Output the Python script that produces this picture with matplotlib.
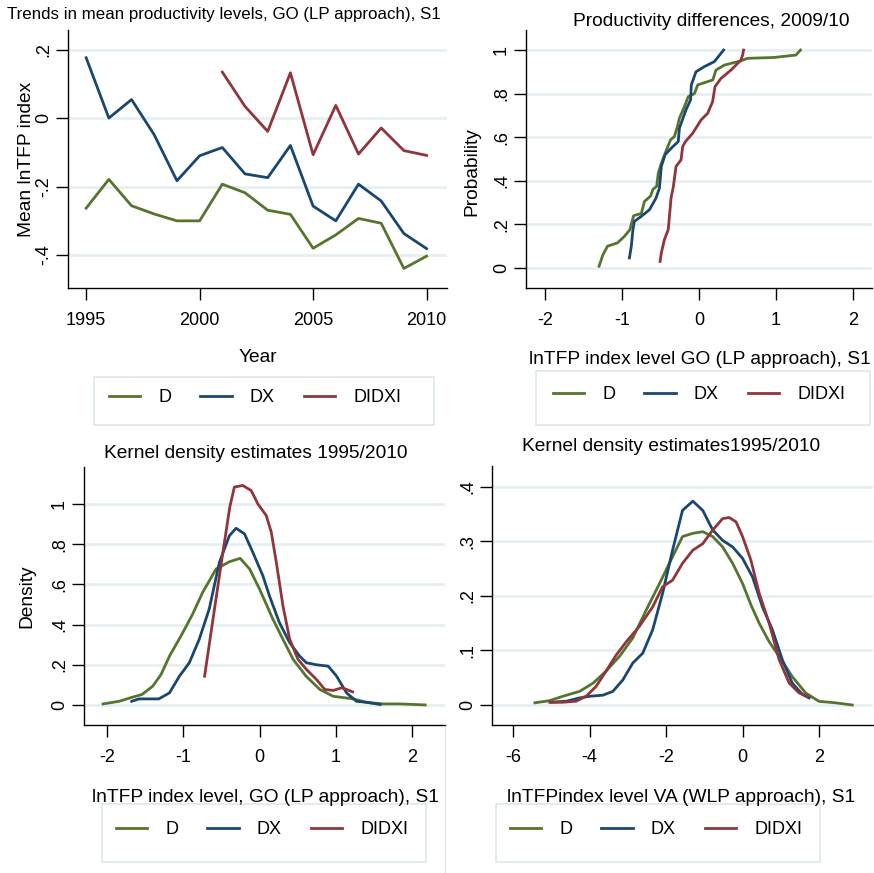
import matplotlib
matplotlib.use("Agg")
import matplotlib.pyplot as plt
from matplotlib.patches import Rectangle
from matplotlib.lines import Line2D
from matplotlib.ticker import FuncFormatter

W, H = 874, 873

GREEN = "#55752f"
NAVY = "#1a476f"
MAROON = "#90353b"
GRID = "#e6eff2"
BOX = "#dde8ea"

series_names = ["D", "DX", "DIDXI"]

# panel 1: mean lnTFP by year
years = list(range(1995, 2011))
trend_d = [-0.263, -0.179, -0.256, -0.280, -0.300, -0.300, -0.193, -0.218,
           -0.269, -0.281, -0.380, -0.341, -0.293, -0.307, -0.439, -0.403]
trend_dx = [0.176, 0.0, 0.054, -0.049, -0.183, -0.110, -0.086, -0.163,
            -0.174, -0.080, -0.257, -0.300, -0.193, -0.242, -0.337, -0.381]
years_didxi = list(range(2001, 2011))
trend_didxi = [0.134, 0.034, -0.039, 0.132, -0.107, 0.037, -0.105, -0.029, -0.095, -0.109]

# panel 2: cumulative distributions 2009/10
cdf_d_x = [-1.30, -1.25, -1.19, -1.06, -0.97, -0.90, -0.85, -0.75, -0.71, -0.63, -0.60,
           -0.55, -0.53, -0.49, -0.44, -0.37, -0.32, -0.28, -0.255, -0.19, -0.14, -0.06,
           -0.017, 0.18, 0.22, 0.33, 0.55, 0.63, 0.98, 1.26, 1.32]
cdf_d_p = [0.008, 0.06, 0.10, 0.115, 0.145, 0.175, 0.24, 0.25, 0.305, 0.33, 0.36,
           0.375, 0.435, 0.48, 0.527, 0.588, 0.603, 0.649, 0.687, 0.74, 0.786, 0.80,
           0.84, 0.863, 0.908, 0.931, 0.951, 0.962, 0.966, 0.977, 1.0]
cdf_dx_x = [-0.905, -0.88, -0.86, -0.84, -0.75, -0.645, -0.56, -0.515, -0.49, -0.44,
            -0.36, -0.27, -0.255, -0.17, -0.11, -0.10, -0.04, 0.07, 0.20, 0.32]
cdf_dx_p = [0.046, 0.10, 0.175, 0.214, 0.237, 0.267, 0.32, 0.366, 0.466, 0.52,
            0.55, 0.58, 0.641, 0.725, 0.771, 0.84, 0.90, 0.924, 0.947, 1.0]
cdf_didxi_x = [-0.506, -0.49, -0.45, -0.40, -0.377, -0.364, -0.333, -0.299, -0.234,
               -0.212, -0.177, -0.082, 0.026, 0.113, 0.177, 0.208, 0.286, 0.416,
               0.545, 0.567, 0.58]
cdf_didxi_p = [0.03, 0.069, 0.13, 0.176, 0.267, 0.32, 0.374, 0.466, 0.496,
               0.557, 0.58, 0.618, 0.679, 0.71, 0.763, 0.832, 0.87, 0.908,
               0.954, 0.977, 1.0]

# panel 3: kernel densities, GO (LP)
kd_go_d_x = [-2.05, -1.84, -1.67, -1.54, -1.40, -1.29, -1.18, -1.03, -0.877, -0.746,
             -0.57, -0.395, -0.254, -0.13, 0.0, 0.175, 0.307, 0.44, 0.61, 0.79,
             0.965, 1.23, 1.40, 1.62, 1.84, 2.17]
kd_go_d_y = [0.005, 0.018, 0.038, 0.052, 0.093, 0.152, 0.243, 0.343, 0.452, 0.56,
             0.677, 0.713, 0.73, 0.677, 0.577, 0.427, 0.327, 0.227, 0.143, 0.077,
             0.043, 0.03, 0.013, 0.005, 0.005, 0.0]
kd_go_dx_x = [-1.675, -1.58, -1.45, -1.32, -1.18, -1.05, -0.92, -0.79, -0.66, -0.526,
              -0.395, -0.307, -0.197, -0.088, 0.044, 0.13, 0.26, 0.395, 0.526, 0.614,
              0.745, 0.9, 1.01, 1.14, 1.27, 1.40, 1.58]
kd_go_dx_y = [0.018, 0.03, 0.03, 0.03, 0.06, 0.143, 0.21, 0.327, 0.477, 0.71,
              0.843, 0.88, 0.852, 0.76, 0.643, 0.543, 0.41, 0.31, 0.243, 0.21,
              0.20, 0.193, 0.143, 0.06, 0.018, 0.013, 0.002]
kd_go_didxi_x = [-0.72, -0.61, -0.48, -0.39, -0.33, -0.22, -0.11, -0.02, 0.088, 0.154,
                 0.22, 0.307, 0.395, 0.504, 0.614, 0.745, 0.855, 0.965, 1.075, 1.14, 1.22]
kd_go_didxi_y = [0.143, 0.427, 0.76, 0.985, 1.085, 1.093, 1.068, 1.0, 0.943, 0.86,
                 0.71, 0.493, 0.327, 0.227, 0.177, 0.127, 0.077, 0.072, 0.085, 0.077, 0.065]

# panel 4: kernel densities, VA (WLP)
kd_va_d_x = [-5.43, -5.04, -4.70, -4.26, -3.91, -3.57, -3.22, -2.87, -2.52, -2.17,
             -1.83, -1.57, -1.30, -1.04, -0.78, -0.52, -0.26, 0.0, 0.217, 0.435,
             0.696, 0.957, 1.30, 1.65, 2.0, 2.43, 2.87]
kd_va_d_y = [0.004, 0.008, 0.016, 0.025, 0.04, 0.062, 0.089, 0.123, 0.174, 0.223,
             0.272, 0.309, 0.315, 0.318, 0.309, 0.29, 0.26, 0.223, 0.184, 0.15,
             0.116, 0.089, 0.052, 0.022, 0.0067, 0.004, 0.0]
kd_va_dx_x = [-5.0, -4.6, -4.26, -4.0, -3.65, -3.39, -3.13, -2.87, -2.61, -2.35,
              -2.09, -1.83, -1.57, -1.30, -1.04, -0.78, -0.52, -0.26, 0.0, 0.26,
              0.52, 0.78, 1.04, 1.30, 1.57, 1.74]
kd_va_dx_y = [0.005, 0.007, 0.013, 0.016, 0.018, 0.025, 0.046, 0.077, 0.095, 0.138,
              0.205, 0.284, 0.357, 0.374, 0.357, 0.321, 0.302, 0.29, 0.269, 0.235,
              0.18, 0.138, 0.083, 0.040, 0.019, 0.013]
kd_va_didxi_x = [-5.04, -4.70, -4.35, -4.09, -3.83, -3.57, -3.30, -3.04, -2.70, -2.35,
                 -2.09, -1.83, -1.57, -1.30, -1.04, -0.78, -0.52, -0.35, -0.17, 0.0,
                 0.217, 0.435, 0.696, 0.957, 1.22, 1.48, 1.70]
kd_va_didxi_y = [0.005, 0.005, 0.007, 0.016, 0.034, 0.062, 0.092, 0.116, 0.144, 0.18,
                 0.217, 0.229, 0.26, 0.284, 0.296, 0.321, 0.342, 0.344, 0.336, 0.309,
                 0.266, 0.205, 0.15, 0.083, 0.040, 0.022, 0.016]

plt.rcParams.update({
    "font.family": ["Liberation Sans", "DejaVu Sans"],
    "font.size": 13,
    "axes.linewidth": 1.0,
    "xtick.major.size": 8.5,
    "ytick.major.size": 8.5,
    "xtick.major.width": 1.0,
    "ytick.major.width": 1.0,
    "xtick.major.pad": 9,
    "ytick.major.pad": 3,
    "lines.linewidth": 2.0,
})

TITLE_FS = 13.8
LABEL_FS = 13.8


def fx(px):
    return px / W


def fy(py):
    return 1 - py / H


def _stata_num(v, _pos=None):
    v = round(v, 6)
    s = f"{v:g}"
    if s.startswith("0."):
        s = s[1:]
    elif s.startswith("-0."):
        s = "-" + s[2:]
    return s


def _make_axes(fig, left, top, right, bottom):
    ax = fig.add_axes([fx(left), fy(bottom), fx(right - left), (bottom - top) / H])
    ax.spines["top"].set_visible(False)
    ax.spines["right"].set_visible(False)
    ax.yaxis.grid(True, color=GRID, linewidth=2.0)
    ax.set_axisbelow(True)
    ax.yaxis.set_major_formatter(FuncFormatter(_stata_num))
    ax.xaxis.set_major_formatter(FuncFormatter(_stata_num))
    ax.tick_params(axis="y", labelrotation=90)
    return ax


def _center_ylabels(ax):
    for lab in ax.get_yticklabels():
        lab.set_va("center")


def _legend_box(fig, handles, left, top, right, bottom, shift=0):
    fig.add_artist(Rectangle((fx(left), fy(bottom)), fx(right - left), (bottom - top) / H,
                             transform=fig.transFigure, facecolor="white",
                             edgecolor=BOX, linewidth=1.2))
    fig.legend(handles, series_names, loc="center", ncol=3, frameon=False,
               bbox_to_anchor=(fx((left + right) / 2 + shift), fy((top + bottom) / 2 - 3)),
               bbox_transform=fig.transFigure, handlelength=1.75,
               handletextpad=1.0, columnspacing=1.6)


fig = plt.figure(figsize=(W / 100, H / 100), dpi=100)
fig.patch.set_facecolor("white")

# ---- panel 1
ax1 = _make_axes(fig, 68, 30, 447, 288)
l_d, = ax1.plot(years, trend_d, color=GREEN)
l_dx, = ax1.plot(years, trend_dx, color=NAVY)
l_di, = ax1.plot(years_didxi, trend_didxi, color=MAROON)
ax1.set_xlim(1994.2, 2010.9)
ax1.set_ylim(-0.496, 0.257)
ax1.set_xticks([1995, 2000, 2005, 2010])
ax1.set_yticks([-0.4, -0.2, 0, 0.2])
_center_ylabels(ax1)
fig.text(fx(224), fy(14), "Trends in mean productivity levels, GO (LP approach), S1",
         ha="center", va="center", fontsize=12.2)
fig.text(fx(27), fy(159), "Mean lnTFP index", rotation=90, ha="center", va="center",
         fontsize=LABEL_FS)
fig.text(fx(258), fy(357), "Year", ha="center", va="center", fontsize=LABEL_FS)
handles = [l_d, l_dx, l_di]
_legend_box(fig, handles, 94, 377, 434, 425, shift=-9)

# ---- panel 2
ax2 = _make_axes(fig, 526, 30, 872, 288)
ax2.plot(cdf_d_x, cdf_d_p, color=GREEN)
ax2.plot(cdf_dx_x, cdf_dx_p, color=NAVY)
ax2.plot(cdf_didxi_x, cdf_didxi_p, color=MAROON)
ax2.set_xlim(-2.25, 2.25)
ax2.set_ylim(-0.092, 1.092)
ax2.set_xticks([-2, -1, 0, 1, 2])
ax2.set_yticks([0, 0.2, 0.4, 0.6, 0.8, 1])
_center_ylabels(ax2)
fig.text(fx(711), fy(22), "Productivity differences, 2009/10", ha="center", va="center",
         fontsize=TITLE_FS)
fig.text(fx(472), fy(172), "Probability", rotation=90, ha="center", va="center",
         fontsize=LABEL_FS)
fig.text(fx(700), fy(360), "lnTFP index level GO (LP approach), S1", ha="center",
         va="center", fontsize=LABEL_FS)
_legend_box(fig, handles, 536, 371, 870, 425, shift=-4)

# ---- panel 3
ax3 = _make_axes(fig, 84, 467, 445, 725)
ax3.plot(kd_go_d_x, kd_go_d_y, color=GREEN)
ax3.plot(kd_go_dx_x, kd_go_dx_y, color=NAVY)
ax3.plot(kd_go_didxi_x, kd_go_didxi_y, color=MAROON)
ax3.set_xlim(-2.30, 2.43)
ax3.set_ylim(-0.1, 1.185)
ax3.set_xticks([-2, -1, 0, 1, 2])
ax3.set_yticks([0, 0.2, 0.4, 0.6, 0.8, 1])
_center_ylabels(ax3)
fig.text(fx(256), fy(453), "Kernel density estimates 1995/2010", ha="center", va="center",
         fontsize=TITLE_FS)
fig.text(fx(27), fy(596), "Density", rotation=90, ha="center", va="center",
         fontsize=LABEL_FS)
fig.text(fx(265), fy(797), "lnTFP index level, GO (LP approach), S1", ha="center",
         va="center", fontsize=LABEL_FS)
_legend_box(fig, handles, 102, 804, 426, 862, shift=-2)

# ---- panel 4
ax4 = _make_axes(fig, 492, 466, 873, 725)
ax4.plot(kd_va_d_x, kd_va_d_y, color=GREEN)
ax4.plot(kd_va_dx_x, kd_va_dx_y, color=NAVY)
ax4.plot(kd_va_didxi_x, kd_va_didxi_y, color=MAROON)
ax4.set_xlim(-6.55, 3.41)
ax4.set_ylim(-0.0367, 0.4385)
ax4.set_xticks([-6, -4, -2, 0, 2])
ax4.set_yticks([0, 0.1, 0.2, 0.3, 0.4])
_center_ylabels(ax4)
fig.text(fx(671), fy(447), "Kernel density estimates1995/2010", ha="center", va="center",
         fontsize=TITLE_FS)
fig.text(fx(681), fy(797), "lnTFPindex level VA (WLP approach), S1", ha="center",
         va="center", fontsize=LABEL_FS)
_legend_box(fig, handles, 496, 804, 820, 862, shift=-2)

# faint border between the lower subgraphs
fig.add_artist(Line2D([fx(445), fx(445)], [fy(728), fy(873)], transform=fig.transFigure,
                      color=BOX, linewidth=1.0))

fig.savefig("out.png", dpi=100)
